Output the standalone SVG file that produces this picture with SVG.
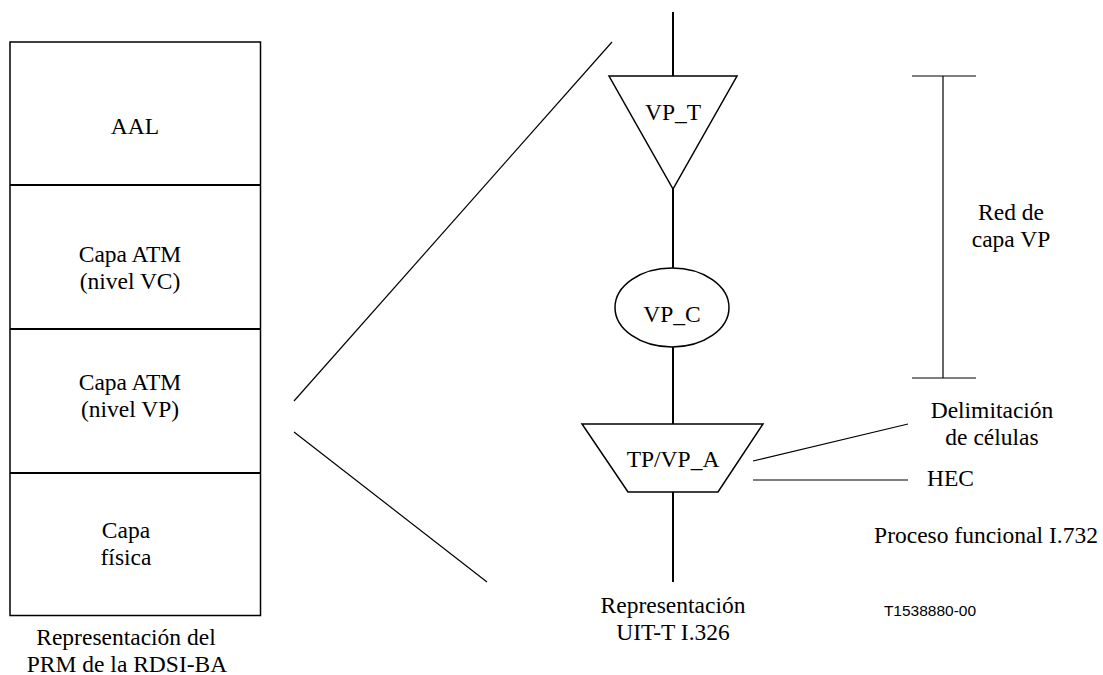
<svg xmlns="http://www.w3.org/2000/svg" width="1103" height="675" viewBox="0 0 1103 675">
  <style>
    .t { font-family: "Liberation Serif", "Times New Roman", serif; font-size: 23.5px; fill: #000; text-anchor: middle; }
    .ts { font-family: "Liberation Sans", Arial, sans-serif; font-size: 15.5px; fill: #000; text-anchor: middle; }
    .shape { fill: #fff; stroke: #000; stroke-width: 1.5; }
    .thick { stroke: #000; stroke-width: 2; fill: none; }
    .thin { stroke: #000; stroke-width: 1.2; fill: none; }
  </style>
  <rect width="1103" height="675" fill="#fff"/>

  <!-- PRM protocol stack -->
  <g id="prm-stack">
    <rect class="shape" x="10" y="42" width="250.5" height="573.5"/>
    <line class="thick" x1="10" y1="185" x2="260.5" y2="185"/>
    <line class="thick" x1="10" y1="329" x2="260.5" y2="329"/>
    <line class="thick" x1="10" y1="473" x2="260.5" y2="473"/>
  </g>
  <g id="layer-aal"><text class="t" x="135" y="134">AAL</text></g>
  <g id="layer-atm-vc">
    <text class="t" x="130" y="262">Capa ATM</text>
    <text class="t" x="130" y="289">(nivel VC)</text>
  </g>
  <g id="layer-atm-vp">
    <text class="t" x="130" y="390">Capa ATM</text>
    <text class="t" x="130" y="417">(nivel VP)</text>
  </g>
  <g id="layer-phys">
    <text class="t" x="126" y="538">Capa</text>
    <text class="t" x="126" y="565">física</text>
  </g>
  <g id="label-prm">
    <text class="t" x="126" y="645">Representación del</text>
    <text class="t" x="127" y="672">PRM de la RDSI-BA</text>
  </g>

  <!-- connectors -->
  <g id="connectors">
    <line class="thin" x1="612" y1="42" x2="294" y2="401"/>
    <line class="thin" x1="294" y1="432" x2="487" y2="582"/>
    <line class="thick" x1="673" y1="12" x2="673" y2="76"/>
    <line class="thick" x1="673" y1="189" x2="673" y2="268"/>
    <line class="thick" x1="673" y1="347" x2="673" y2="424"/>
    <line class="thick" x1="673" y1="492" x2="673" y2="582"/>
    <line class="thin" x1="753" y1="461" x2="908" y2="424"/>
    <line class="thin" x1="753" y1="480" x2="908" y2="480"/>
    <!-- extent bracket -->
    <line class="thin" x1="912" y1="76" x2="976" y2="76"/>
    <line class="thin" x1="943" y1="76" x2="943" y2="378"/>
    <line class="thin" x1="912" y1="378" x2="976" y2="378"/>
  </g>

  <!-- VP trail termination -->
  <g id="vp-t">
    <polygon class="shape" points="609,76 737,76 673,189"/>
    <text class="t" x="673" y="120">VP_T</text>
  </g>
  <!-- VP connection -->
  <g id="vp-c">
    <ellipse class="shape" cx="672" cy="307.5" rx="57" ry="39.5"/>
    <text class="t" x="672" y="322">VP_C</text>
  </g>
  <!-- TP/VP adaptation -->
  <g id="tp-vp-a">
    <polygon class="shape" points="582,424 763,424 718,492 628,492"/>
    <text class="t" x="673" y="467">TP/VP_A</text>
  </g>

  <g id="label-i326">
    <text class="t" x="673" y="613">Representación</text>
    <text class="t" x="673" y="640">UIT-T I.326</text>
  </g>
  <g id="label-vp-net">
    <text class="t" x="1011" y="220">Red de</text>
    <text class="t" x="1011" y="247">capa VP</text>
  </g>
  <g id="label-delim">
    <text class="t" x="992" y="418">Delimitación</text>
    <text class="t" x="992" y="445">de células</text>
  </g>
  <g id="label-hec"><text class="t" x="927" y="486" style="text-anchor:start">HEC</text></g>
  <g id="label-i732"><text class="t" x="986" y="543">Proceso funcional I.732</text></g>
  <g id="label-ref"><text class="ts" x="930" y="616">T1538880-00</text></g>
</svg>
